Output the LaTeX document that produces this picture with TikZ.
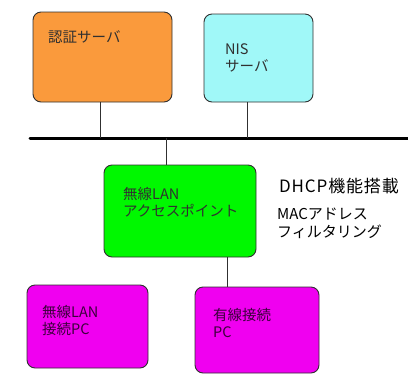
\documentclass[tikz,border=0pt]{standalone}
\usepackage{fontspec}
\setmainfont{Noto Sans CJK JP}
\definecolor{cOrange}{HTML}{FA9A3C}
\definecolor{cCyan}{HTML}{A0F8F8}
\definecolor{cGreen}{HTML}{00F800}
\definecolor{cMag}{HTML}{F000F0}
\definecolor{cLine}{HTML}{303030}
\definecolor{cText}{HTML}{303030}
\tikzset{
  box/.style={draw=cLine, line width=0.9pt, rounded corners=8pt, anchor=north west, outer sep=0pt, inner sep=0pt},
  lbl/.style={anchor=north west, inner sep=0pt, align=left, text=cText, font=\fontsize{14.5}{17.5}\selectfont},
  conn/.style={draw=cLine, line width=0.9pt},
  bus/.style={draw=black, line width=3pt, line cap=round}
}
\begin{document}
\begin{tikzpicture}[x=1pt,y=-1pt]
\useasboundingbox (0,0) rectangle (408,376);
% boxes
\node[box, fill=cOrange, minimum width=139pt, minimum height=90pt] (auth) at (33,12) {};
\node[box, fill=cCyan, minimum width=109pt, minimum height=88pt] (nis) at (204,14) {};
\node[box, fill=cGreen, minimum width=152pt, minimum height=92pt] (ap) at (104,165) {};
\node[box, fill=cMag, minimum width=121pt, minimum height=83pt] (wpc) at (27,285) {};
\node[box, fill=cMag, minimum width=124pt, minimum height=86pt] (lpc) at (195,287) {};
% bus
\coordinate (busL) at (30,138);
\coordinate (busR) at (408,138);
\draw[bus] (busL) -- (busR);
% drops
\coordinate (d1) at (100,138);
\coordinate (d2) at (247,138);
\coordinate (d3) at (166,138);
\coordinate (d4) at (227,287);
\draw[conn] (d1 |- auth.south) -- (d1);
\draw[conn] (d2 |- nis.south) -- (d2);
\draw[conn] (d3) -- (d3 |- ap.north);
\draw[conn] (d4 |- ap.south) -- (d4);
% texts
\node[lbl] (t1) at (48,30) {認証サーバ};
\node[lbl] (t2) at (225,43) {NIS\\サーバ};
\node[lbl] (t3) at (123,187) {無線LAN\\アクセスポイント};
\node[lbl, text=black!75!cMag] (t4) at (42,305) {無線LAN\\接続PC};
\node[lbl, text=black!75!cMag] (t5) at (213,308) {有線接続\\PC};
\node[lbl, text=black, font=\fontsize{17}{20}\selectfont\addfontfeatures{LetterSpace=5}] (t6) at (279,178) {DHCP機能搭載};
\node[lbl, text=black, font=\fontsize{15}{17.5}\selectfont] (t7) at (277,208) {MACアドレス\\フィルタリング};
\end{tikzpicture}
\end{document}
